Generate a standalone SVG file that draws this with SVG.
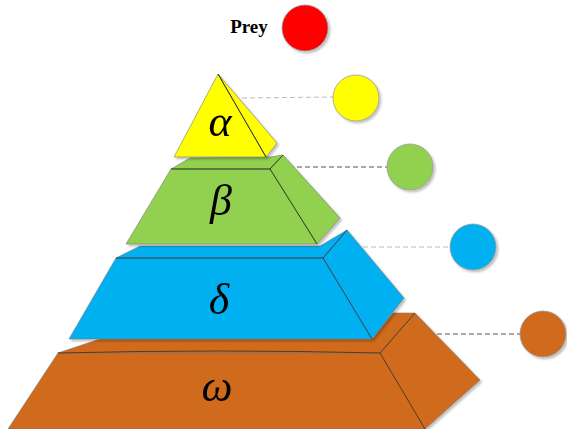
<svg xmlns="http://www.w3.org/2000/svg" width="567" height="429" viewBox="0 0 567 429">
<defs>
<filter id="sh" x="-10%" y="-10%" width="130%" height="130%">
<feDropShadow dx="2" dy="2" stdDeviation="1.2" flood-color="#000" flood-opacity="0.25"/>
</filter>
<style>
.face{stroke:#777;stroke-width:0.6;stroke-linejoin:round}
.edge{fill:none;stroke-width:1}
.dot{stroke:#999;stroke-width:0.8}
.lbl{font-family:"Liberation Serif",serif;font-style:italic;font-size:44px;fill:#000;text-anchor:middle}
.dl{fill:none;stroke-dasharray:5,3;stroke-width:1}
</style>
</defs>
<rect width="567" height="429" fill="#fff"/>
<g id="connectors">
<line class="dl" x1="242" y1="98" x2="333" y2="97" stroke="#bbb"/>
<line class="dl" x1="297" y1="167" x2="387" y2="167" stroke="#555"/>
<line class="dl" x1="363" y1="247" x2="450" y2="247" stroke="#bbb"/>
<line class="dl" x1="437" y1="334" x2="520" y2="334" stroke="#555"/>
</g>
<g id="layer-omega" filter="url(#sh)">
<polygon class="face" fill="#D06B1C" points="58,353 100,339 372,339 393,313 415,313 380,353"/>
<polygon class="face" fill="#D06B1C" points="380,353 415,313 480,380 425,429"/>
<polygon class="face" fill="#D06B1C" points="58,353 380,353 425,429 8,429"/>
<path class="edge" d="M58,353 Q220,349 380,353 M380,353 L425,429 M380,353 L415,313" stroke="#5a3a1a"/>
<text class="lbl" x="217" y="401">ω</text>
</g>
<g id="layer-delta" filter="url(#sh)">
<polygon class="face" fill="#00B0F0" points="116,258 140,246 320,246 347,230 323,258"/>
<polygon class="face" fill="#00B0F0" points="323,258 347,230 404,298 372,339"/>
<polygon class="face" fill="#00B0F0" points="116,258 323,258 372,339 69,339"/>
<path class="edge" d="M116,258 L323,258 M323,258 L372,339 M323,258 L347,230" stroke="#1c4a66"/>
<text class="lbl" x="219" y="314">δ</text>
</g>
<g id="layer-beta" filter="url(#sh)">
<polygon class="face" fill="#92D050" points="171,169 190,158 270,157 283,155 270,169"/>
<polygon class="face" fill="#92D050" points="270,169 283,155 340,218 317,244"/>
<polygon class="face" fill="#92D050" points="171,169 270,169 317,244 126,244"/>
<path class="edge" d="M171,169 L270,169 L317,244 M270,169 L283,155" stroke="#2f4a1c"/>
<text class="lbl" x="221" y="215">β</text>
</g>
<g id="layer-alpha" filter="url(#sh)">
<polygon class="face" fill="#FFFF00" points="218,74 277,143 266,157"/>
<polygon class="face" fill="#FFFF00" points="218,74 266,157 174,157"/>
<path class="edge" d="M218,74 L266,157" stroke="#333"/>
<text class="lbl" x="220" y="136">α</text>
</g>
<g id="prey">
<text x="249" y="33" font-family="Liberation Serif,serif" font-weight="bold" font-size="19" text-anchor="middle">Prey</text>
<circle class="dot" cx="305" cy="28" r="23" fill="#FF0000" filter="url(#sh)"/>
</g>
<g id="dot-alpha"><circle class="dot" cx="356" cy="98" r="23" fill="#FFFF00" filter="url(#sh)"/></g>
<g id="dot-beta"><circle class="dot" cx="410" cy="167" r="23" fill="#92D050" filter="url(#sh)"/></g>
<g id="dot-delta"><circle class="dot" cx="473" cy="247" r="23" fill="#00B0F0" filter="url(#sh)"/></g>
<g id="dot-omega"><circle class="dot" cx="543" cy="334" r="23" fill="#D06B1C" filter="url(#sh)"/></g>
</svg>
